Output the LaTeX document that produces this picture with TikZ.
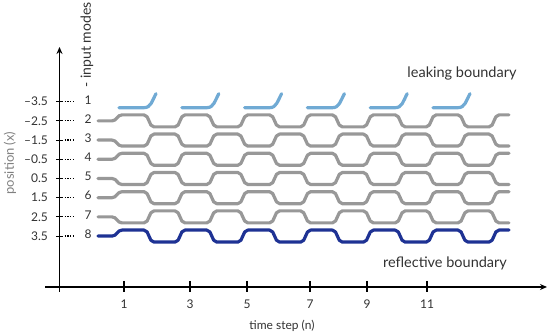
\documentclass[tikz,border=0pt]{standalone}
\usepackage{fontspec}
\setmainfont{Lato}
\usepackage{xcolor}
\usepackage{tikz}
\usetikzlibrary{arrows.meta}

\definecolor{wgGray}{RGB}{152,152,152}
\definecolor{leakBlue}{RGB}{112,170,212}
\definecolor{reflBlue}{RGB}{30,50,148}
\definecolor{txtGray}{RGB}{50,50,50}

\begin{document}
\begin{tikzpicture}[x=1pt,y=-1pt,
  axis/.style={line width=1.4pt,-{Stealth[length=7pt,width=6pt]}},
  guide/.style={line width=3.2pt,line cap=round,line join=round},
  tck/.style={line width=1.1pt},
  dots/.style={line width=1.2pt,dash pattern=on 1.2pt off 1.6pt},
  lbl/.style={font=\fontsize{12}{14}\selectfont,text=txtGray,inner sep=0pt},
  big/.style={font=\fontsize{14.5}{17}\selectfont,text=txtGray,inner sep=0pt}
]
\useasboundingbox (0,0) rectangle (550,336);

%% Axes
\coordinate (xs) at (45,287);
\coordinate (xe) at (547,287);
\coordinate (ys) at (59.5,292);
\coordinate (ye) at (59.5,47);
\draw[axis] (xs) -- (xe);
\draw[axis] (ys) -- (ye);

%% Time steps
\foreach \x/\n in {124/1,190/3,247/5,310/7,367/9,427/11} {
  \draw[tck] (\x,281) -- (\x,292);
  \node[lbl] (t\n) at (\x,304) {\n};
}

%% Positions and input modes
\foreach \k/\v in {1/–3.5,2/–2.5,3/–1.5,4/–0.5,5/0.5,6/1.5,7/2.5,8/3.5} {
  \pgfmathsetmacro\yb{101.7+(\k-1)*19.2}
  \node[lbl,anchor=east] (p\k) at (48,\yb) {\v};
  \draw[tck] (56,\yb) -- (63,\yb);
  \draw[dots] (64.5,\yb) -- (75,\yb);
  \node[lbl] (m\k) at (88,\yb-2) {\k};
}

%% Waveguides 2--8
\foreach \k in {2,...,8} {
  \pgfmathsetmacro\yb{101.7+(\k-1)*19.2}
  \pgfmathsetmacro\ya{isodd(\k) ? \yb+6 : \yb-6}
  \pgfmathsetmacro\yB{2*\yb-\ya}
  \edef\col{\ifnum\k=8 reflBlue\else wgGray\fi}
  \draw[guide,draw=\col] (98,\yb) -- (112,\yb)
    .. controls (117,\yb) and (117,\ya) .. (122,\ya)
    foreach \a in {122,184.8,247.6,310.4,373.2,436} {
      -- (\a+22,\ya) .. controls (\a+27.5,\ya) and (\a+26.5,\yB) .. (\a+32,\yB)
      -- (\a+53,\yB) .. controls (\a+58.5,\yB) and (\a+57.5,\ya) .. (\a+63,\ya)
    }
    -- (509,\ya);
}

%% Leaking mode 1
\foreach \a in {122,184.8,247.6,310.4,373.2,436}
  \draw[guide,leakBlue] (\a-3,107.7) -- (\a+22,107.7)
    .. controls (\a+29,107.7) and (\a+30,101) .. (\a+34,93.7);

%% Labels
\node[big] (leak) at (462,73) {leaking boundary};
\node[big] (refl) at (445,263) {reflective boundary};
\node[lbl] (xlab) at (282,326) {time step (n)};
\node[lbl,font=\fontsize{13}{15}\selectfont,text=gray,rotate=90] (ylab) at (10,163) {position (x)};
\node[lbl,font=\fontsize{14}{16}\selectfont,rotate=90] (modes) at (87,45) {- input modes};
\end{tikzpicture}
\end{document}
